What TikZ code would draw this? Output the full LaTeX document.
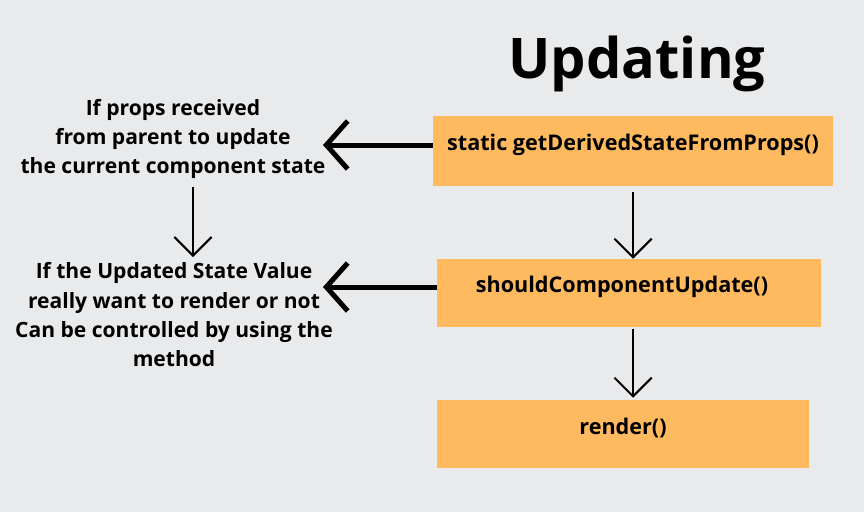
\documentclass[tikz,border=0pt]{standalone}
\usepackage{fontspec}
\setmainfont{Open Sans}
\usetikzlibrary{positioning, arrows.meta}

\definecolor{bgcol}{HTML}{E9EAEC}
\definecolor{boxcol}{HTML}{FFBA60}

\begin{document}
\begin{tikzpicture}[x=0.75pt, y=-0.75pt,
  box/.style={rectangle, fill=boxcol, inner sep=0pt},
  boxtext/.style={font=\bfseries\fontsize{16.2}{19}\selectfont, inner sep=0pt},
  note/.style={font=\bfseries\fontsize{15.8}{22}\selectfont, align=center, inner sep=0pt},
  bigarrow/.style={line width=3.75pt, -{Straight Barb[length=16pt, width=36pt, line width=3.75pt]}},
  thinarrow/.style={line width=1.5pt, -{Straight Barb[length=14pt, width=28pt, line width=1.5pt]}}]

\fill[bgcol] (0, 0) rectangle (864, 512);
\useasboundingbox (0, 0) rectangle (864, 512);

% title
\node[font=\bfseries\fontsize{42}{48}\selectfont, inner sep=0pt] (title) at (637, 64) {Updating};

% lifecycle boxes
\node[box, minimum width=300pt, minimum height=52.5pt] (b1) at (633, 151) {};
\node[box, minimum width=288pt, minimum height=51pt] (b2) at (629, 293) {};
\node[box, minimum width=279pt, minimum height=51pt] (b3) at (623, 434) {};

\node[boxtext] (t1) at (633, 145) {static getDerivedStateFromProps()};
\node[boxtext] (t2) at (622, 287) {shouldComponentUpdate()};
\node[boxtext] (t3) at (623, 428) {render()};

% notes on the left
\node[note] (n1) at (173, 139) {If props received\\from parent to update\\the current component state};
\node[note] (n2) at (174, 315) {If the Updated State Value\\really want to render or not\\Can be controlled by using the\\method};

\coordinate (a1) at (323, 145);
\coordinate (a2) at (323, 287);
\coordinate (d1) at (193, 187);
\coordinate (d2) at (193, 257);

% arrows
\draw[bigarrow] (b1.west |- t1) -- (a1);
\draw[bigarrow] (b2.west |- t2) -- (a2);

\draw[thinarrow] ([yshift=-4.5pt]b1.south -| t1) -- (b2.north -| t1);
\draw[thinarrow] ([yshift=-1.5pt]b2.south -| t1) -- ([yshift=1.5pt]b3.north -| t1);
\draw[thinarrow] (d1) -- (d2);

\end{tikzpicture}
\end{document}
